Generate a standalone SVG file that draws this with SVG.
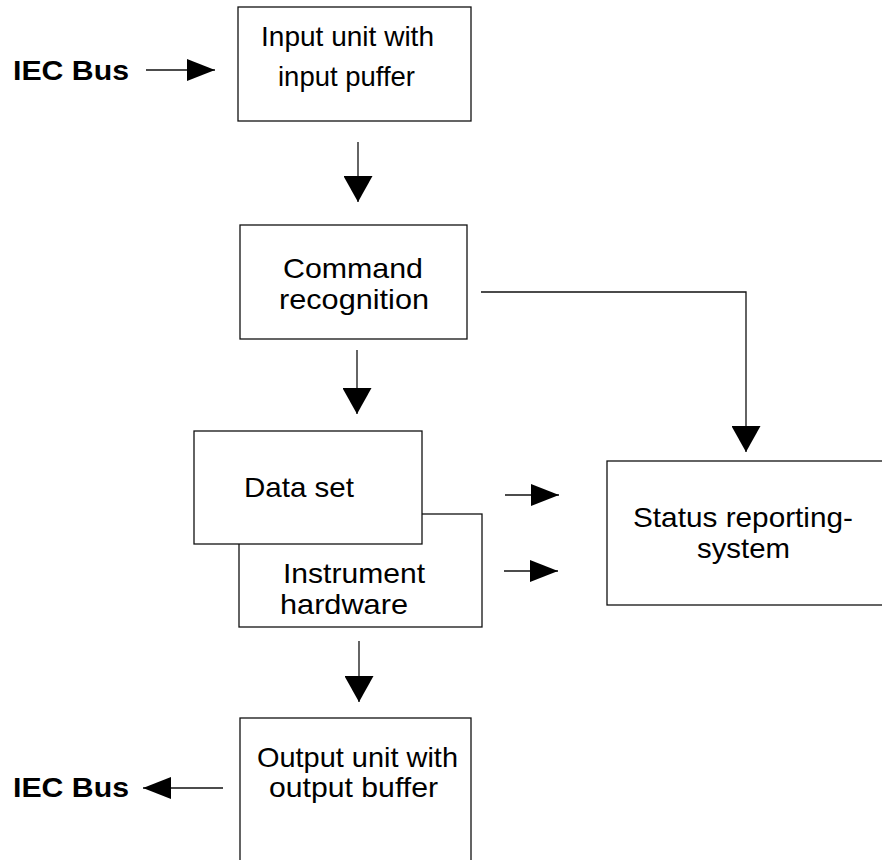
<svg xmlns="http://www.w3.org/2000/svg" width="882" height="860" viewBox="0 0 882 860">
<defs>
<style>
.box{fill:#fff;stroke:#111;stroke-width:1.3}
.t{font-family:"Liberation Sans",Arial,sans-serif;font-size:28px;fill:#000}
.b{font-family:"Liberation Sans",Arial,sans-serif;font-size:27px;font-weight:bold;fill:#000}
.ln{fill:none;stroke:#111;stroke-width:1.3}
</style>
<marker id="ah" viewBox="0 0 28 22" refX="28" refY="11" markerWidth="28" markerHeight="22" markerUnits="userSpaceOnUse" orient="auto"><path d="M0,0 L28,11 L0,22 z" fill="#000"/></marker>
<marker id="av" viewBox="0 0 26 29" refX="26" refY="14.5" markerWidth="26" markerHeight="29" markerUnits="userSpaceOnUse" orient="auto"><path d="M0,0 L26,14.5 L0,29 z" fill="#000"/></marker>
</defs>
<rect width="882" height="860" fill="#fff"/>
<g id="connectors">
<line class="ln" x1="146" y1="70" x2="215" y2="70" marker-end="url(#ah)"/>
<line class="ln" x1="358" y1="142" x2="358" y2="202" marker-end="url(#av)"/>
<line class="ln" x1="357" y1="350" x2="357" y2="414" marker-end="url(#av)"/>
<polyline class="ln" points="481,292 746,292 746,452" marker-end="url(#av)"/>
<line class="ln" x1="505" y1="495" x2="559" y2="495" marker-end="url(#ah)"/>
<line class="ln" x1="504" y1="571" x2="558" y2="571" marker-end="url(#ah)"/>
<line class="ln" x1="359" y1="641" x2="359" y2="702" marker-end="url(#av)"/>
<line class="ln" x1="223" y1="788" x2="143" y2="788" marker-end="url(#ah)"/>
</g>
<g id="iec-in"><text class="b" x="13" y="80" textLength="116" lengthAdjust="spacingAndGlyphs">IEC Bus</text></g>
<g id="input-unit">
<rect class="box" x="238" y="7" width="233" height="114"/>
<text class="t" x="261" y="46" textLength="173" lengthAdjust="spacingAndGlyphs">Input unit with</text>
<text class="t" x="278" y="86" textLength="137" lengthAdjust="spacingAndGlyphs">input puffer</text>
</g>
<g id="command">
<rect class="box" x="240" y="225" width="227" height="114"/>
<text class="t" x="283" y="278" textLength="140" lengthAdjust="spacingAndGlyphs">Command</text>
<text class="t" x="279" y="309" textLength="150" lengthAdjust="spacingAndGlyphs">recognition</text>
</g>
<g id="instrument">
<rect class="box" x="239" y="514" width="243" height="113"/>
<text class="t" x="283" y="583" textLength="142" lengthAdjust="spacingAndGlyphs">Instrument</text>
<text class="t" x="280" y="614" textLength="128" lengthAdjust="spacingAndGlyphs">hardware</text>
</g>
<g id="dataset">
<rect class="box" x="194" y="431" width="228" height="113"/>
<text class="t" x="244" y="497" textLength="110" lengthAdjust="spacingAndGlyphs">Data set</text>
</g>
<g id="status">
<rect class="box" x="607" y="461" width="290" height="144"/>
<text class="t" x="633" y="527" textLength="220" lengthAdjust="spacingAndGlyphs">Status reporting-</text>
<text class="t" x="697" y="558" textLength="93" lengthAdjust="spacingAndGlyphs">system</text>
</g>
<g id="output-unit">
<rect class="box" x="240" y="718" width="231" height="160"/>
<text class="t" x="257" y="767" textLength="201" lengthAdjust="spacingAndGlyphs">Output unit with</text>
<text class="t" x="269" y="797" textLength="169" lengthAdjust="spacingAndGlyphs">output buffer</text>
</g>
<g id="iec-out"><text class="b" x="13" y="797" textLength="116" lengthAdjust="spacingAndGlyphs">IEC Bus</text></g>
</svg>
